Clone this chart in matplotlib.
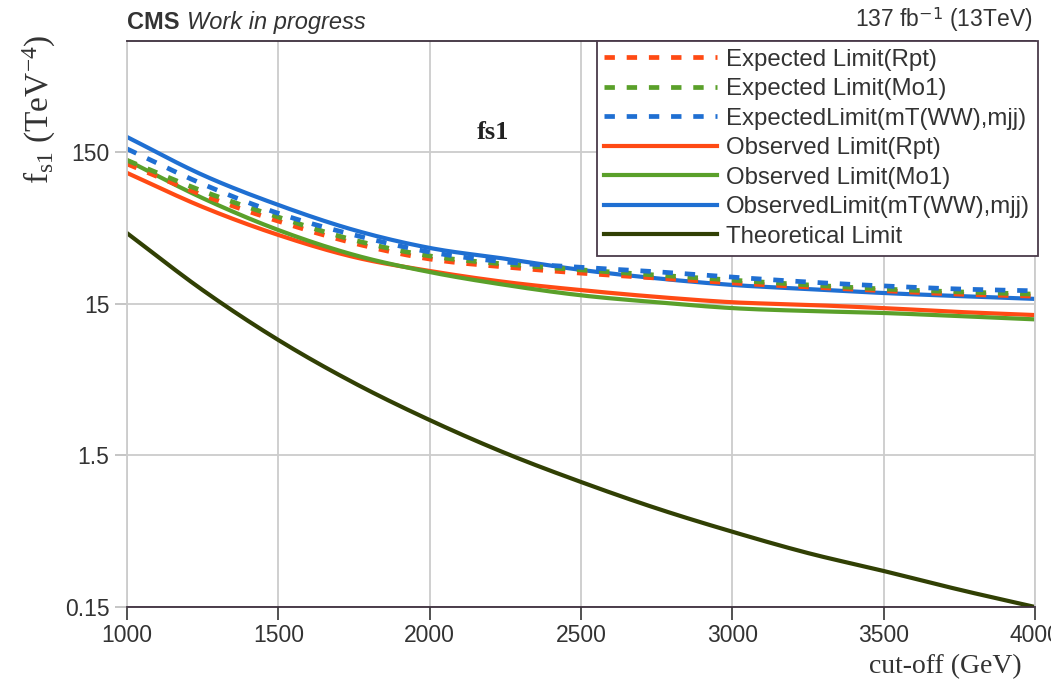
import numpy as np
import matplotlib.pyplot as plt
from matplotlib.ticker import FixedLocator, NullLocator, FixedFormatter

plt.rcParams['font.family'] = ['Liberation Sans', 'DejaVu Sans']
plt.rcParams['mathtext.fontset'] = 'custom'
plt.rcParams['mathtext.rm'] = 'Liberation Serif'
plt.rcParams['mathtext.it'] = 'Liberation Serif:italic'

# cut-off scan points (GeV)
cutoff = [1000, 1250, 1500, 1750, 2000, 2250, 2500, 2750, 3000, 3250, 3500, 3750, 4000]

# limits on fs1 (TeV^-4)
exp_rpt = [125, 77.9, 52.4, 37.5, 29.5, 26.1, 23.8, 22.1, 20.5, 19.3, 18.2, 17.3, 16.8]
exp_mo1 = [132, 82.7, 55.7, 39.3, 30.9, 27.3, 25.0, 23.1, 21.4, 19.9, 18.7, 17.9, 17.3]
exp_mt = [157, 92.0, 59, 42.5, 32.8, 28.2, 26.0, 24.3, 22.4, 20.8, 19.6, 18.7, 18.2]
obs_rpt = [109, 65.0, 42.5, 30.4, 24.6, 20.8, 18.4, 16.6, 15.3, 14.7, 14.0, 13.2, 12.6]
obs_mo1 = [132, 74.3, 45.8, 31.4, 24.2, 19.9, 17.0, 15.3, 14.0, 13.4, 13.0, 12.4, 11.8]
obs_mt = [188, 105.6, 67, 45.8, 34.9, 29.6, 25.0, 22.0, 19.9, 18.7, 17.6, 16.8, 16.1]
theory = [43.7, 18.4, 8.63, 4.50, 2.56, 1.55, 1.00, 0.67, 0.47, 0.34, 0.259, 0.195, 0.15]

ytick_vals = [0.15, 1.5, 15, 150]
ytick_labels = ['0.15', '1.5', '15', '150']
xtick_vals = [1000, 1500, 2000, 2500, 3000, 3500, 4000]

c_orange = '#ff4a14'
c_green = '#5aa02a'
c_blue = '#1f6fd2'
c_dark = '#314004'


def smooth(x, y, n=20):
    # Catmull-Rom curve through the points, in log(y), for a smoothed line
    x = np.asarray(x, float)
    ly = np.log10(np.asarray(y, float))
    px = np.concatenate([[2 * x[0] - x[1]], x, [2 * x[-1] - x[-2]]])
    py = np.concatenate([[2 * ly[0] - ly[1]], ly, [2 * ly[-1] - ly[-2]]])
    xs, ys = [], []
    t = np.linspace(0, 1, n, endpoint=False)
    for i in range(1, len(px) - 2):
        for p, out in ((px, xs), (py, ys)):
            p0, p1, p2, p3 = p[i - 1], p[i], p[i + 1], p[i + 2]
            out.append(0.5 * (2 * p1 + (-p0 + p2) * t
                              + (2 * p0 - 5 * p1 + 4 * p2 - p3) * t ** 2
                              + (-p0 + 3 * p1 - 3 * p2 + p3) * t ** 3))
    xs.append([x[-1]])
    ys.append([ly[-1]])
    return np.concatenate(xs), 10 ** np.concatenate(ys)


fig = plt.figure(figsize=(10.51, 6.83), dpi=100)
ax = fig.add_axes([0.1208, 0.1113, 0.864, 0.8287])

lw = 3.0
dlw = 3.4
dash = (2.2, 2.5)
h_or, = ax.plot(*smooth(cutoff, obs_rpt), color=c_orange, lw=lw, label='Observed Limit(Rpt)')
h_og, = ax.plot(*smooth(cutoff, obs_mo1), color=c_green, lw=lw, label='Observed Limit(Mo1)')
h_ob, = ax.plot(*smooth(cutoff, obs_mt), color=c_blue, lw=lw, label='ObservedLimit(mT(WW),mjj)')
h_er, = ax.plot(*smooth(cutoff, exp_rpt), color=c_orange, lw=dlw, dashes=dash, label='Expected Limit(Rpt)')
h_eg, = ax.plot(*smooth(cutoff, exp_mo1), color=c_green, lw=dlw, dashes=dash, label='Expected Limit(Mo1)')
h_eb, = ax.plot(*smooth(cutoff, exp_mt), color=c_blue, lw=dlw, dashes=dash, label='ExpectedLimit(mT(WW),mjj)')
h_th, = ax.plot(*smooth(cutoff, theory), color=c_dark, lw=lw, label='Theoretical Limit')

ax.set_yscale('log')
ax.set_xlim(1000, 4000)
ax.set_ylim(0.15, 807)
ax.yaxis.set_major_locator(FixedLocator(ytick_vals))
ax.yaxis.set_major_formatter(FixedFormatter(ytick_labels))
ax.yaxis.set_minor_locator(NullLocator())
ax.set_xticks(xtick_vals)
ax.tick_params(axis='both', labelsize=16.5, colors='#333333', length=9, width=1.2)
ax.tick_params(axis='y', color='#bbbbbb')
ax.grid(True, color='#cccccc', lw=1.3)
ax.set_axisbelow(True)

for s in ['left', 'right']:
    ax.spines[s].set_color('#cccccc')
    ax.spines[s].set_linewidth(1.3)
for s in ['top', 'bottom']:
    ax.spines[s].set_color('#3d2f3d')
    ax.spines[s].set_linewidth(1.3)

leg = ax.legend(handles=[h_er, h_eg, h_eb, h_or, h_og, h_ob, h_th],
                loc='upper right', bbox_to_anchor=(1.003, 1.0), borderaxespad=0,
                fontsize=17.3, handlelength=4.7, handletextpad=0.35,
                labelspacing=0.31, fancybox=False, framealpha=1,
                borderpad=0.33)
leg.get_frame().set_edgecolor('#4a3a4a')
leg.get_frame().set_linewidth(1.3)
for t in leg.get_texts():
    t.set_color('#333333')

ax.text(0.0, 1.012, 'CMS', transform=ax.transAxes, fontsize=17, fontweight='bold',
        color='#333333', va='bottom', ha='left')
ax.text(0.066, 1.012, 'Work in progress', transform=ax.transAxes, fontsize=17,
        style='italic', color='#333333', va='bottom', ha='left')
ax.text(0.997, 1.012, r'137 fb$^{\mathsf{-1}}$ (13TeV)', transform=ax.transAxes,
        fontsize=16.5, color='#333333', va='bottom', ha='right')

ax.text(2210, 200, 'fs1', fontsize=19, fontweight='bold', family='Liberation Serif',
        color='#222222', ha='center', va='center')

fig.text(0.038, 0.84, r'f$_{\mathrm{s1}}$ (TeV$^{-4}$)', rotation=90, fontsize=24,
         family='Liberation Serif', color='#333333', ha='center', va='center')
fig.text(0.972, 0.006, 'cut-off (GeV)', fontsize=20, family='Liberation Serif',
         color='#333333', ha='right', va='bottom')

fig.savefig('out.png', dpi=100)
